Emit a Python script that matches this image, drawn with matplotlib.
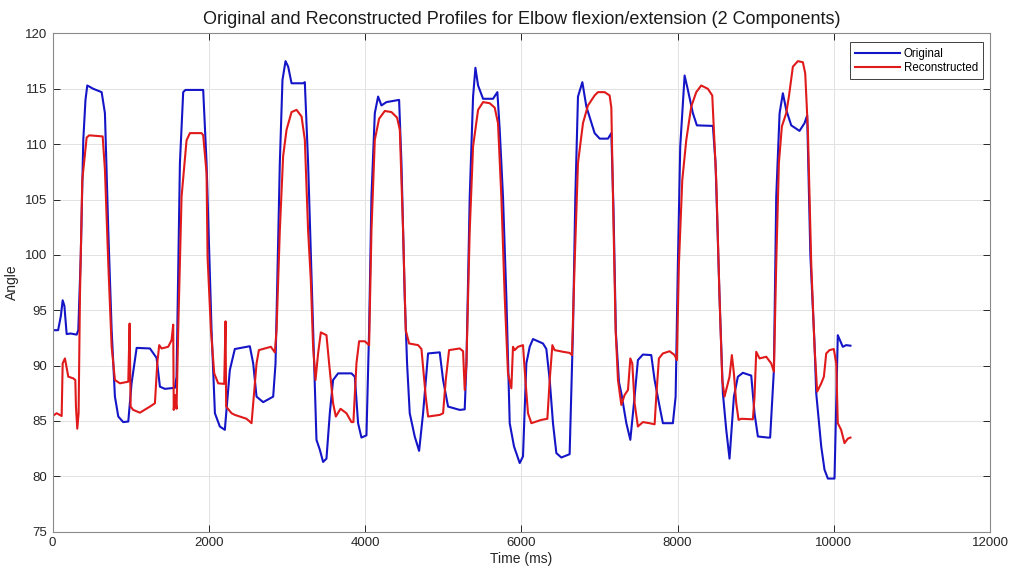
import matplotlib
matplotlib.use("Agg")
import matplotlib.pyplot as plt

# Original elbow flexion/extension angle profile (time in ms, angle in degrees)
orig_t = [0, 70, 105, 128, 150, 179, 230, 307, 328, 360, 392, 420, 443, 470, 520, 627,
          669, 712, 755, 797, 840, 903, 968, 1010, 1075, 1245, 1330, 1373, 1437, 1565,
          1586, 1629, 1671, 1700, 1927, 1970, 2034, 2077, 2140, 2204, 2268, 2332, 2524,
          2567, 2610, 2695, 2823, 2853, 2908, 2942, 2981, 3015, 3058, 3206, 3228, 3270,
          3334, 3377, 3420, 3462, 3505, 3548, 3590, 3654, 3825, 3868, 3910, 3953, 4017,
          4051, 4081, 4124, 4166, 4209, 4273, 4435, 4465, 4507, 4537, 4571, 4635, 4691,
          4742, 4806, 4955, 4998, 5062, 5211, 5275, 5297, 5339, 5382, 5412, 5446, 5510,
          5637, 5693, 5723, 5765, 5808, 5851, 5906, 5979, 6021, 6064, 6107, 6149, 6277,
          6320, 6363, 6405, 6448, 6512, 6618, 6661, 6691, 6725, 6781, 6832, 6938, 7003,
          7109, 7152, 7180, 7210, 7250, 7280, 7344, 7395, 7450, 7492, 7556, 7663, 7706,
          7770, 7812, 7940, 7975, 8004, 8034, 8090, 8132, 8196, 8247, 8452, 8486, 8537,
          8580, 8623, 8665, 8721, 8772, 8836, 8943, 8985, 9028, 9156, 9185, 9233, 9263,
          9306, 9348, 9391, 9455, 9561, 9625, 9659, 9700, 9753, 9775, 9839, 9881, 9924,
          10009, 10051, 10115, 10158, 10213]
orig_angle = [93.2, 93.2, 94.5, 95.9, 95.4, 92.85, 92.9, 92.8, 93.2, 100.0, 110.4, 114.0,
              115.3, 115.2, 115.0, 114.7, 112.8, 102.2, 93.2, 87.2, 85.4, 84.9, 84.95,
              88.4, 91.6, 91.55, 90.7, 88.1, 87.9, 88.0, 89.0, 108.3, 114.7, 114.9, 114.9,
              108.3, 93.2, 85.7, 84.5, 84.2, 89.6, 91.5, 91.75, 90.2, 87.2, 86.7, 87.2,
              90.2, 108.3, 115.8, 117.5, 117.0, 115.5, 115.5, 115.6, 108.3, 93.2, 83.3,
              82.4, 81.3, 81.6, 85.7, 88.7, 89.3, 89.3, 89.0, 84.8, 83.5, 83.7, 93.2,
              105.25, 112.8, 114.3, 113.5, 113.8, 114.0, 108.3, 96.2, 90.2, 85.7, 83.6,
              82.3, 85.7, 91.1, 91.2, 88.7, 86.3, 86.0, 86.05, 90.2, 105.25, 114.3, 116.9,
              115.3, 114.1, 114.1, 114.7, 111.3, 105.25, 96.2, 84.8, 82.7, 81.2, 81.8,
              90.2, 91.7, 92.4, 92.0, 91.5, 88.7, 84.8, 82.1, 81.7, 82.0, 93.2, 105.25,
              114.3, 115.6, 113.4, 111.0, 110.5, 110.5, 111.0, 104.0, 93.0, 88.5, 87.5,
              84.8, 83.3, 87.2, 90.5, 91.0, 90.95, 88.7, 86.3, 84.8, 84.8, 87.2, 99.2,
              109.8, 116.2, 114.9, 112.8, 111.7, 111.65, 108.3, 96.2, 87.5, 84.2, 81.6,
              87.2, 89.0, 89.35, 89.1, 85.7, 83.6, 83.5, 83.5, 89.6, 105.25, 112.8, 114.6,
              113.1, 111.7, 111.2, 111.9, 112.6, 100.0, 92.0, 87.5, 82.7, 80.6, 79.8,
              79.8, 92.75, 91.7, 91.85, 91.8]

# Profile reconstructed from the first two components
recon_t = [0, 51, 115, 128, 157, 200, 264, 290, 298, 315, 332, 349, 379, 435, 468, 640,
           669, 712, 755, 797, 861, 968, 985, 998, 1031, 1117, 1245, 1309, 1339, 1364,
           1394, 1479, 1522, 1543, 1550, 1565, 1586, 1607, 1650, 1714, 1757, 1906, 1927,
           1970, 1983, 2026, 2068, 2119, 2196, 2213, 2221, 2290, 2332, 2482, 2546, 2575,
           2610, 2640, 2716, 2793, 2844, 2866, 2908, 2950, 2994, 3058, 3122, 3186, 3228,
           3270, 3305, 3334, 3365, 3398, 3433, 3505, 3539, 3590, 3625, 3685, 3761, 3825,
           3850, 3889, 3923, 3996, 4051, 4081, 4124, 4179, 4252, 4337, 4409, 4444, 4486,
           4520, 4563, 4678, 4721, 4776, 4806, 4955, 4998, 5032, 5075, 5211, 5254, 5275,
           5297, 5339, 5382, 5446, 5510, 5595, 5659, 5701, 5744, 5787, 5829, 5872, 5893,
           5915, 5957, 6021, 6052, 6085, 6128, 6256, 6333, 6363, 6397, 6426, 6533, 6618,
           6648, 6682, 6725, 6789, 6853, 6938, 6981, 7066, 7130, 7152, 7173, 7207, 7237,
           7280, 7322, 7365, 7395, 7420, 7450, 7492, 7556, 7641, 7706, 7727, 7761, 7812,
           7898, 7962, 7991, 8017, 8060, 8111, 8175, 8239, 8303, 8388, 8444, 8495, 8537,
           8572, 8601, 8644, 8665, 8695, 8721, 8751, 8781, 8815, 8964, 8985, 9007, 9049,
           9135, 9199, 9233, 9263, 9297, 9335, 9391, 9425, 9476, 9540, 9604, 9634, 9668,
           9711, 9753, 9787, 9839, 9873, 9903, 9945, 10000, 10031, 10051, 10094, 10137,
           10179, 10213]
recon_angle = [85.45, 85.7, 85.45, 90.2, 90.65, 89.0, 88.85, 88.7, 86.3, 84.3, 85.7, 96.2,
               106.75, 110.6, 110.8, 110.7, 107.7, 99.2, 91.7, 88.7, 88.4, 88.55, 93.8,
               86.3, 86.0, 85.75, 86.3, 86.6, 90.2, 91.85, 91.55, 91.7, 92.3, 93.7, 86.0,
               87.35, 86.1, 93.2, 105.25, 110.35, 111.0, 111.0, 110.8, 107.4, 99.8, 93.2,
               89.3, 88.4, 88.35, 94.0, 86.3, 85.7, 85.55, 85.2, 84.8, 87.2, 90.2, 91.4,
               91.55, 91.7, 91.2, 93.2, 102.2, 108.9, 111.3, 112.9, 113.1, 112.5, 110.4,
               102.2, 97.7, 91.7, 88.7, 91.1, 93.0, 92.75, 90.2, 86.6, 85.4, 86.1, 85.7,
               84.9, 84.9, 90.2, 92.2, 92.2, 91.85, 102.2, 110.4, 112.3, 113.0, 112.9,
               112.4, 111.3, 102.2, 93.2, 92.0, 91.85, 91.5, 87.2, 85.4, 85.55, 85.7, 88.7,
               91.4, 91.55, 91.3, 87.8, 90.2, 102.2, 109.8, 113.1, 113.8, 113.7, 113.3,
               111.9, 105.25, 96.2, 89.3, 87.95, 91.7, 91.4, 91.7, 91.85, 88.7, 85.7, 84.8,
               85.1, 85.2, 88.7, 91.85, 91.4, 91.25, 91.15, 90.95, 99.2, 108.3, 111.9,
               113.5, 114.4, 114.7, 114.7, 114.4, 113.3, 105.25, 93.2, 88.7, 86.45, 87.35,
               87.8, 90.65, 90.2, 86.6, 84.5, 84.9, 84.8, 84.7, 87.2, 90.65, 91.1, 91.3,
               90.95, 90.5, 99.2, 106.75, 110.35, 113.4, 114.7, 115.3, 115.0, 114.4, 106.75,
               96.2, 88.7, 87.2, 88.4, 89.0, 90.95, 89.3, 86.6, 85.1, 85.2, 85.15, 87.2,
               91.25, 90.65, 90.8, 90.2, 89.45, 99.2, 108.3, 111.6, 112.8, 114.3, 117.0,
               117.5, 117.4, 116.4, 111.3, 99.2, 91.7, 87.65, 88.4, 89.0, 91.1, 91.4, 91.5,
               90.2, 84.8, 84.2, 83.0, 83.4, 83.5]

x_ticks = [0, 2000, 4000, 6000, 8000, 10000, 12000]
y_ticks = [75, 80, 85, 90, 95, 100, 105, 110, 115, 120]

plt.rcParams['font.family'] = ['Liberation Sans', 'DejaVu Sans']

fig = plt.figure(figsize=(10.09, 5.74), dpi=100)
ax = fig.add_axes([0.0522, 0.0737, 0.929, 0.868])

ax.plot(orig_t, orig_angle, color='#1515c8', lw=1.5, label='Original',
        solid_joinstyle='round')
ax.plot(recon_t, recon_angle, color='#e01a1a', lw=1.5, label='Reconstructed',
        solid_joinstyle='round')

ax.set_xlim(0, 12000)
ax.set_ylim(75, 120)
ax.set_xticks(x_ticks)
ax.set_yticks(y_ticks)
ax.grid(True, color='#e2e2e2', lw=0.7)
ax.set_axisbelow(True)

ax.tick_params(direction='in', length=5, width=0.7, colors='#262626',
               labelsize=9.5, top=True, right=True, pad=4)
for s in ax.spines.values():
    s.set_color('#8a8a8a')
    s.set_linewidth(0.8)

ax.set_xlabel('Time (ms)', fontsize=10, color='#262626', labelpad=2)
ax.set_ylabel('Angle', fontsize=10, color='#262626', labelpad=4)
ax.set_title('Original and Reconstructed Profiles for Elbow flexion/extension (2 Components)',
             fontsize=13, color='#1a1a1a', pad=7)

leg = ax.legend(loc='upper right', fontsize=8.3, handlelength=3.9, handletextpad=0.3,
                borderpad=0.45, labelspacing=0.2, fancybox=False, framealpha=1,
                borderaxespad=0, bbox_to_anchor=(0.9925, 0.982))
leg.get_frame().set_edgecolor('#404040')
leg.get_frame().set_linewidth(0.7)

fig.savefig('out.png', dpi=100)
